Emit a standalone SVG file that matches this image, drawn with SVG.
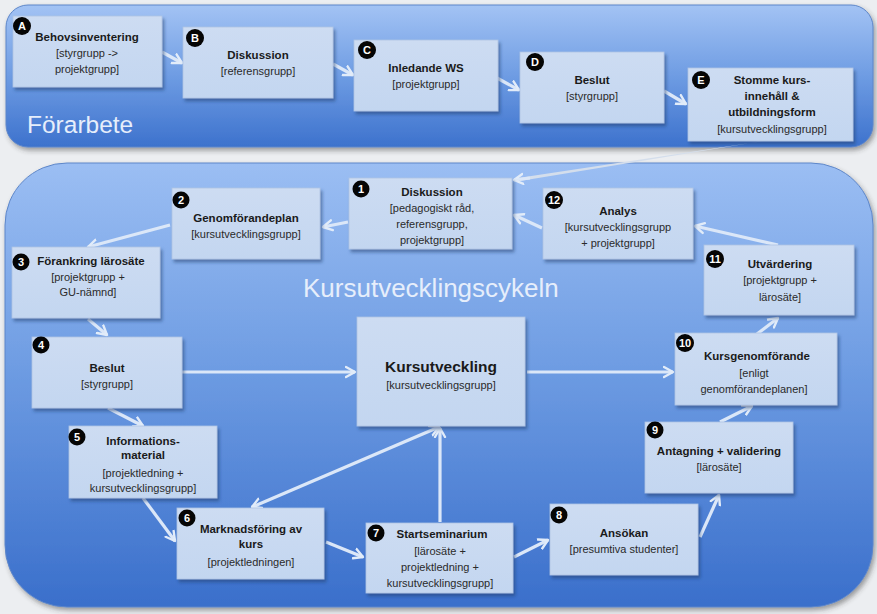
<svg xmlns="http://www.w3.org/2000/svg" width="877" height="614" viewBox="0 0 877 614">
<defs>
<linearGradient id="gTop" x1="0" y1="0" x2="0" y2="1">
<stop offset="0" stop-color="#a3c3f4"/>
<stop offset="0.5" stop-color="#6e9ce3"/>
<stop offset="1" stop-color="#3d72cd"/>
</linearGradient>
<linearGradient id="gBot" x1="0" y1="0" x2="0" y2="1">
<stop offset="0" stop-color="#9bbef3"/>
<stop offset="0.45" stop-color="#6f9de3"/>
<stop offset="1" stop-color="#3a6fcb"/>
</linearGradient>
<linearGradient id="gBox" x1="0" y1="0" x2="0" y2="1">
<stop offset="0" stop-color="#cddcf2"/>
<stop offset="1" stop-color="#c3d6f0"/>
</linearGradient>
<filter id="sh" x="-10%" y="-10%" width="130%" height="140%">
<feDropShadow dx="2" dy="3" stdDeviation="1.5" flood-color="#1c3a6b" flood-opacity="0.5"/>
</filter>
<filter id="psh" x="-5%" y="-5%" width="110%" height="115%">
<feDropShadow dx="2" dy="3" stdDeviation="2.5" flood-color="#333" flood-opacity="0.45"/>
</filter>
<marker id="ah" markerUnits="userSpaceOnUse" markerWidth="14" markerHeight="14" refX="10" refY="6" orient="auto-start-reverse" viewBox="0 0 14 12">
<path d="M1,1 L10,6 L1,11" fill="none" stroke="#e2ecf9" stroke-width="2.4" stroke-linecap="round" stroke-linejoin="round"/>
</marker>
</defs>
<style>
.box{fill:url(#gBox);stroke:#aec4e4;stroke-width:0.8;filter:url(#sh)}
.t{font-family:"Liberation Sans",Arial,sans-serif;font-size:11.5px;font-weight:bold;fill:#1a1a1a;text-anchor:middle}
.s{font-family:"Liberation Sans",Arial,sans-serif;font-size:11px;fill:#2a2a2a;text-anchor:middle}
.bc{fill:#050505}
.bn{font-family:"Liberation Sans",Arial,sans-serif;font-size:11px;font-weight:bold;fill:#ffffff;text-anchor:middle}
.lbl{font-family:"Liberation Sans",Arial,sans-serif;font-size:24.5px;fill:#e6eefb}
.c{fill:none;stroke:#dbe7f8;stroke-width:3.2;marker-end:url(#ah)}
.c2{fill:none;stroke:#dbe7f8;stroke-width:3.2;marker-end:url(#ah);marker-start:url(#ah)}
</style>
<rect x="0" y="0" width="877" height="614" fill="#eceef1"/>
<g id="panel-forarbete">
<rect x="6" y="5" width="867" height="142" rx="22" fill="url(#gTop)" stroke="#5d86c9" stroke-width="1" filter="url(#psh)"/>
<text class="lbl" x="27" y="133">Förarbete</text>
</g>
<g id="panel-cykel">
<rect x="5" y="163" width="868" height="444" rx="62" fill="url(#gBot)" stroke="#5d86c9" stroke-width="1" filter="url(#psh)"/>
<text class="lbl" x="303" y="297" style="font-size:26px">Kursutvecklingscykeln</text>
</g>
<g id="connectors">
<path class="c" d="M162,52 L182,63"/>
<path class="c" d="M333,64 L353,75"/>
<path class="c" d="M497,78 L519,90"/>
<path class="c" d="M664,91 L686,104"/>
<polygon points="757,142 774,139 520,181 518,178" fill="#d4deec"/>
<path class="c" d="M530,178 L514,180"/>
<path class="c" d="M348,222 L323,227"/>
<path class="c" d="M542,228 L514,215"/>
<path class="c" d="M778,245 L695,226"/>
<path class="c" d="M170,225 L88,247"/>
<path class="c" d="M88,319 L107,335"/>
<path class="c" d="M182,372 L355,372"/>
<path class="c" d="M108,408 L143,426"/>
<path class="c2" d="M439,427 L252,507"/>
<path class="c" d="M440,522 L440,428"/>
<path class="c" d="M143,498 L175,541"/>
<path class="c" d="M326,542 L363,557"/>
<path class="c" d="M514,557 L548,540"/>
<path class="c" d="M700,537 L719,495"/>
<path class="c" d="M720,422 L752,406"/>
<path class="c" d="M757,334 L778,318"/>
<path class="c" d="M527,372 L673,372"/>
</g>
<g id="node-A">
<rect class="box" x="13" y="16" width="149" height="71"/>
<text class="t" x="87" y="41">Behovsinventering</text>
<text class="s" x="87" y="57">[styrgrupp -&gt;</text>
<text class="s" x="87" y="73">projektgrupp]</text>
<circle class="bc" cx="22" cy="26" r="9"/><text class="bn" x="22" y="30">A</text>
</g>
<g id="node-B">
<rect class="box" x="183" y="27" width="150" height="71"/>
<text class="t" x="258" y="59">Diskussion</text>
<text class="s" x="258" y="75">[referensgrupp]</text>
<circle class="bc" cx="195" cy="38" r="9"/><text class="bn" x="195" y="42">B</text>
</g>
<g id="node-C">
<rect class="box" x="354" y="40" width="144" height="71"/>
<text class="t" x="426" y="72">Inledande WS</text>
<text class="s" x="426" y="88">[projektgrupp]</text>
<circle class="bc" cx="367" cy="50" r="9"/><text class="bn" x="367" y="54">C</text>
</g>
<g id="node-D">
<rect class="box" x="520" y="52" width="144" height="71"/>
<text class="t" x="592" y="84">Beslut</text>
<text class="s" x="592" y="100">[styrgrupp]</text>
<circle class="bc" cx="535" cy="62" r="9"/><text class="bn" x="535" y="66">D</text>
</g>
<g id="node-E">
<rect class="box" x="688" y="68" width="165" height="73"/>
<text class="t" x="772" y="84">Stomme kurs-</text>
<text class="t" x="772" y="100">innehåll &amp;</text>
<text class="t" x="772" y="116">utbildningsform</text>
<text class="s" x="772" y="133">[kursutvecklingsgrupp]</text>
<circle class="bc" cx="701" cy="80" r="9"/><text class="bn" x="701" y="84">E</text>
</g>
<g id="node-1">
<rect class="box" x="349" y="178" width="163" height="71"/>
<text class="t" x="432" y="196">Diskussion</text>
<text class="s" x="432" y="212">[pedagogiskt råd,</text>
<text class="s" x="432" y="228">referensgrupp,</text>
<text class="s" x="432" y="244">projektgrupp]</text>
<circle class="bc" cx="361" cy="189" r="8.5"/><text class="bn" x="361" y="193">1</text>
</g>
<g id="node-2">
<rect class="box" x="172" y="188" width="148" height="71"/>
<text class="t" x="246" y="222">Genomförandeplan</text>
<text class="s" x="246" y="238">[kursutvecklingsgrupp]</text>
<circle class="bc" cx="181" cy="200" r="8.5"/><text class="bn" x="181" y="204">2</text>
</g>
<g id="node-3">
<rect class="box" x="12" y="247" width="148" height="71"/>
<text class="t" x="91" y="265">Förankring lärosäte</text>
<text class="s" x="88" y="281">[projektgrupp +</text>
<text class="s" x="88" y="296">GU-nämnd]</text>
<circle class="bc" cx="21" cy="262" r="8.5"/><text class="bn" x="21" y="266">3</text>
</g>
<g id="node-12">
<rect class="box" x="543" y="188" width="150" height="71"/>
<text class="t" x="618" y="215">Analys</text>
<text class="s" x="618" y="231">[kursutvecklingsgrupp</text>
<text class="s" x="618" y="247">+ projektgrupp]</text>
<circle class="bc" cx="554" cy="200" r="9"/><text class="bn" x="554" y="204">12</text>
</g>
<g id="node-11">
<rect class="box" x="704" y="245" width="150" height="70"/>
<text class="t" x="780" y="268">Utvärdering</text>
<text class="s" x="780" y="284">[projektgrupp +</text>
<text class="s" x="780" y="301">lärosäte]</text>
<circle class="bc" cx="715" cy="259" r="9"/><text class="bn" x="715" y="263">11</text>
</g>
<g id="node-4">
<rect class="box" x="32" y="337" width="150" height="71"/>
<text class="t" x="107" y="372">Beslut</text>
<text class="s" x="107" y="388">[styrgrupp]</text>
<circle class="bc" cx="41" cy="345" r="8.5"/><text class="bn" x="41" y="349">4</text>
</g>
<g id="node-K">
<rect class="box" x="357" y="317" width="168" height="109"/>
<text class="t" x="441" y="372" style="font-size:15.5px">Kursutveckling</text>
<text class="s" x="441" y="389">[kursutvecklingsgrupp]</text>
</g>
<g id="node-10">
<rect class="box" x="675" y="333" width="162" height="72"/>
<text class="t" x="757" y="360">Kursgenomförande</text>
<text class="s" x="754" y="377">[enligt</text>
<text class="s" x="754" y="393">genomförandeplanen]</text>
<circle class="bc" cx="685" cy="343" r="9"/><text class="bn" x="685" y="347">10</text>
</g>
<g id="node-5">
<rect class="box" x="69" y="426" width="148" height="72"/>
<text class="t" x="143" y="445">Informations-</text>
<text class="t" x="143" y="459">material</text>
<text class="s" x="143" y="477">[projektledning +</text>
<text class="s" x="143" y="492">kursutvecklingsgrupp]</text>
<circle class="bc" cx="77" cy="437" r="8.5"/><text class="bn" x="77" y="441">5</text>
</g>
<g id="node-9">
<rect class="box" x="645" y="422" width="148" height="71"/>
<text class="t" x="719" y="455">Antagning + validering</text>
<text class="s" x="719" y="471">[lärosäte]</text>
<circle class="bc" cx="655" cy="430" r="8.5"/><text class="bn" x="655" y="434">9</text>
</g>
<g id="node-6">
<rect class="box" x="177" y="508" width="147" height="71"/>
<text class="t" x="251" y="533">Marknadsföring av</text>
<text class="t" x="251" y="548">kurs</text>
<text class="s" x="251" y="566">[projektledningen]</text>
<circle class="bc" cx="187" cy="518" r="8.5"/><text class="bn" x="187" y="522">6</text>
</g>
<g id="node-7">
<rect class="box" x="366" y="523" width="147" height="70"/>
<text class="t" x="442" y="538">Startseminarium</text>
<text class="s" x="440" y="555">[lärosäte +</text>
<text class="s" x="440" y="571">projektledning +</text>
<text class="s" x="440" y="587">kursutvecklingsgrupp]</text>
<circle class="bc" cx="376" cy="533" r="8.5"/><text class="bn" x="376" y="537">7</text>
</g>
<g id="node-8">
<rect class="box" x="550" y="504" width="148" height="71"/>
<text class="t" x="624" y="537">Ansökan</text>
<text class="s" x="624" y="553">[presumtiva studenter]</text>
<circle class="bc" cx="559" cy="515" r="8.5"/><text class="bn" x="559" y="519">8</text>
</g>
</svg>
